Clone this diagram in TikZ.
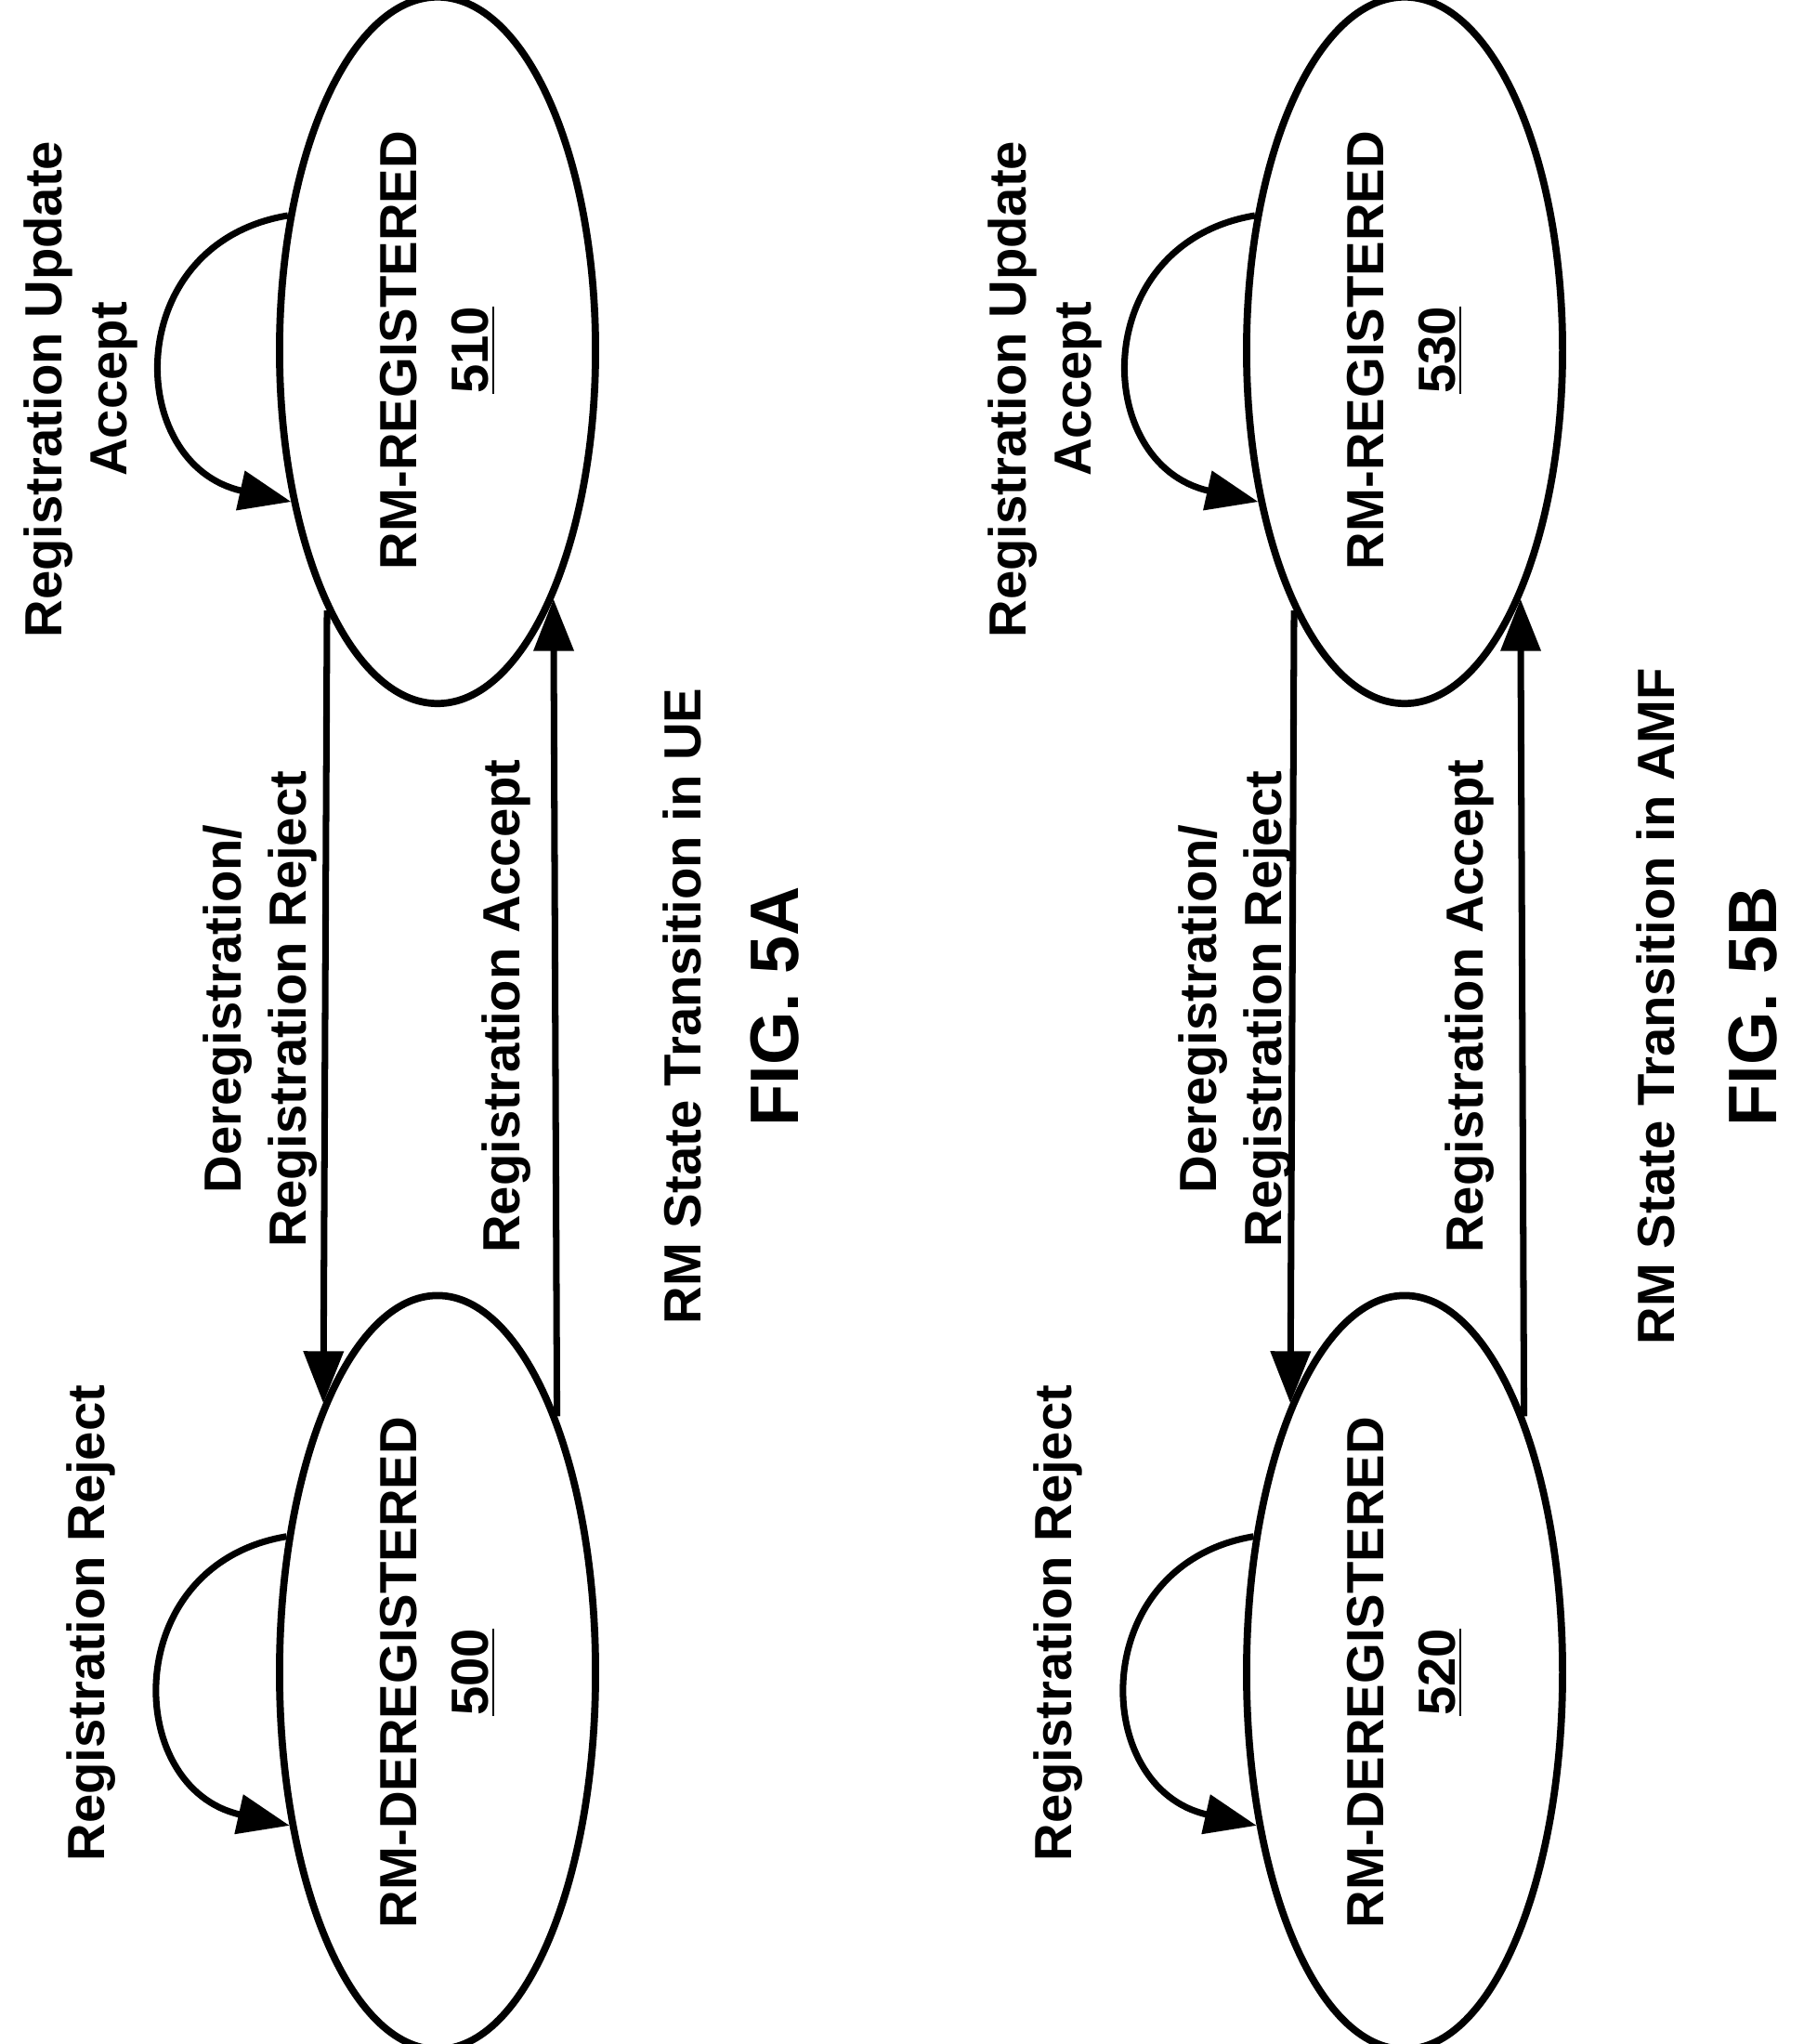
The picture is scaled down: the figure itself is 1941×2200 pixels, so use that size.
\documentclass[tikz,border=0pt]{standalone}
\usepackage{fontspec}
\setmainfont{Liberation Sans}
\usetikzlibrary{shapes.geometric,arrows.meta}
\tikzset{
  state/.style={ellipse, draw=black, line width=2.2pt, minimum width=7.6cm, minimum height=3.4cm, rotate=90, align=center, font=\bfseries\fontsize{16}{22}\selectfont},
  lbl/.style={rotate=90, align=center, font=\bfseries\fontsize{16}{20}\selectfont},
  arr/.style={line width=2pt, -{Triangle[length=0.56cm, width=0.42cm]}}
}
\begin{document}
\begin{tikzpicture}[x=0.01cm, y=-0.01cm]
    \useasboundingbox (0,0) rectangle (1941,2200);

    % Draw the states of FIG. 5A.
    \node[state] (reg_a) at (471, 377) {RM-REGISTERED\\\underline{510}};
    \node[state] (dereg_a) at (471, 1800) {RM-DEREGISTERED\\\underline{500}};

    % Draw the labels of FIG. 5A.
    \node[lbl] (upd_a) at (87, 419) {Registration Update\\Accept};
    \node[lbl] (rej_a) at (98, 1747) {Registration Reject};
    \node[lbl] (derej_a) at (280, 1086) {Deregistration/\\Registration Reject};
    \node[lbl] (acc_a) at (545, 1083) {Registration Accept};
    \node[lbl] (title_a) at (734, 1083) {RM State Transition in UE};
    \node[lbl, font=\bfseries\fontsize{21}{24}\selectfont] (fig_a) at (834, 1083) {FIG. 5A};

    % Draw the lines of FIG. 5A.
    \draw[arr] (reg_a.157) -- (dereg_a.23);
    \draw[arr] (dereg_a.-25) -- (reg_a.205);
    \draw[arr] (reg_a.48) .. controls +(-180,30) and +(-180,-40) .. (reg_a.136);
    \draw[arr] (dereg_a.48) .. controls +(-180,30) and +(-180,-40) .. (dereg_a.136);

    % Draw the states of FIG. 5B.
    \node[state] (reg_b) at (1512, 377) {RM-REGISTERED\\\underline{530}};
    \node[state] (dereg_b) at (1512, 1800) {RM-DEREGISTERED\\\underline{520}};

    % Draw the labels of FIG. 5B.
    \node[lbl] (upd_b) at (1125, 419) {Registration Update\\Accept};
    \node[lbl] (rej_b) at (1139, 1747) {Registration Reject};
    \node[lbl] (derej_b) at (1330, 1086) {Deregistration/\\Registration Reject};
    \node[lbl] (acc_b) at (1582, 1083) {Registration Accept};
    \node[lbl] (title_b) at (1782, 1083) {RM State Transition in AMF};
    \node[lbl, font=\bfseries\fontsize{21}{24}\selectfont] (fig_b) at (1887, 1083) {FIG. 5B};

    % Draw the lines of FIG. 5B.
    \draw[arr] (reg_b.157) -- (dereg_b.23);
    \draw[arr] (dereg_b.-25) -- (reg_b.205);
    \draw[arr] (reg_b.48) .. controls +(-180,30) and +(-180,-40) .. (reg_b.136);
    \draw[arr] (dereg_b.48) .. controls +(-180,30) and +(-180,-40) .. (dereg_b.136);
  \end{tikzpicture}
\end{document}
